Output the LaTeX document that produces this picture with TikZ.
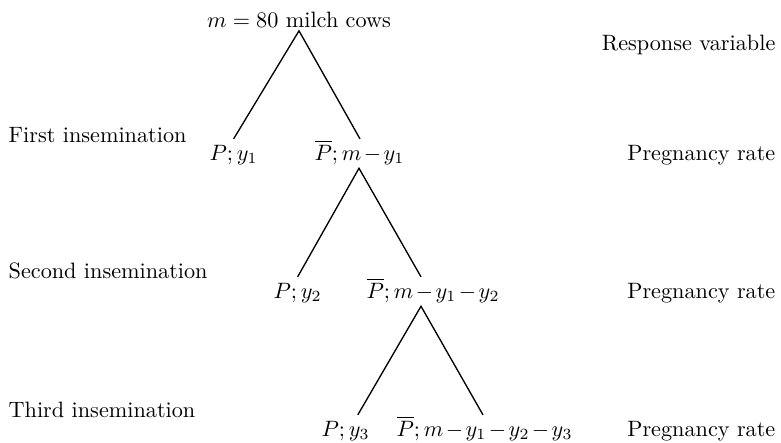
\documentclass[tikz,border=0pt]{standalone}
\usepackage{amsmath}
\usetikzlibrary{calc}
\begin{document}
\begin{tikzpicture}[x=0.45pt, y=-0.45pt, semithick,
  every node/.style={inner sep=0pt},
  leaf/.style={anchor=base west, text height=8.8pt, text depth=3pt, inner sep=0.4pt,
    execute at begin node={\medmuskip=2mu}},
  stage/.style={anchor=base west},
  resp/.style={anchor=base east}]
  \useasboundingbox (0,0) rectangle (781,442);

  % Herd
  \node[anchor=base, inner sep=1.3pt] (herd) at (299,27) {$m=80$ milch cows};
  \node[resp] (resphead) at (776,50) {Response variable};

  % First insemination
  \node[stage] (s1) at (8,142) {First insemination};
  \node[leaf] (p1) at (208,160) {$P;y_1$};
  \node[leaf] (q1) at (313,160) {$\overline{P};m-y_1$};
  \node[resp] (r1) at (776,160) {Pregnancy rate};
  \draw (p1.north) -- (herd.south) -- ($(q1.north west)+(47,0)$);

  % Second insemination
  \node[stage] (s2) at (8,278) {Second insemination};
  \node[leaf] (p2) at (272,298) {$P;y_2$};
  \node[leaf] (q2) at (365,298) {$\overline{P};m-y_1-y_2$};
  \node[resp] (r2) at (776,298) {Pregnancy rate};
  \draw (p2.north) -- ($(q1.south west)+(46,0)$) -- ($(q2.north west)+(56,0)$);

  % Third insemination
  \node[stage] (s3) at (8,417) {Third insemination};
  \node[leaf] (p3) at (320,436) {$P;y_3$};
  \node[leaf] (q3) at (395,436) {$\overline{P};m-y_1-y_2-y_3$};
  \node[resp] (r3) at (776,436) {Pregnancy rate};
  \draw ([xshift=17pt]p3.north west) -- ($(q2.south west)+(56,0)$) -- ($(q3.north west)+(88,0)$);
\end{tikzpicture}
\end{document}
